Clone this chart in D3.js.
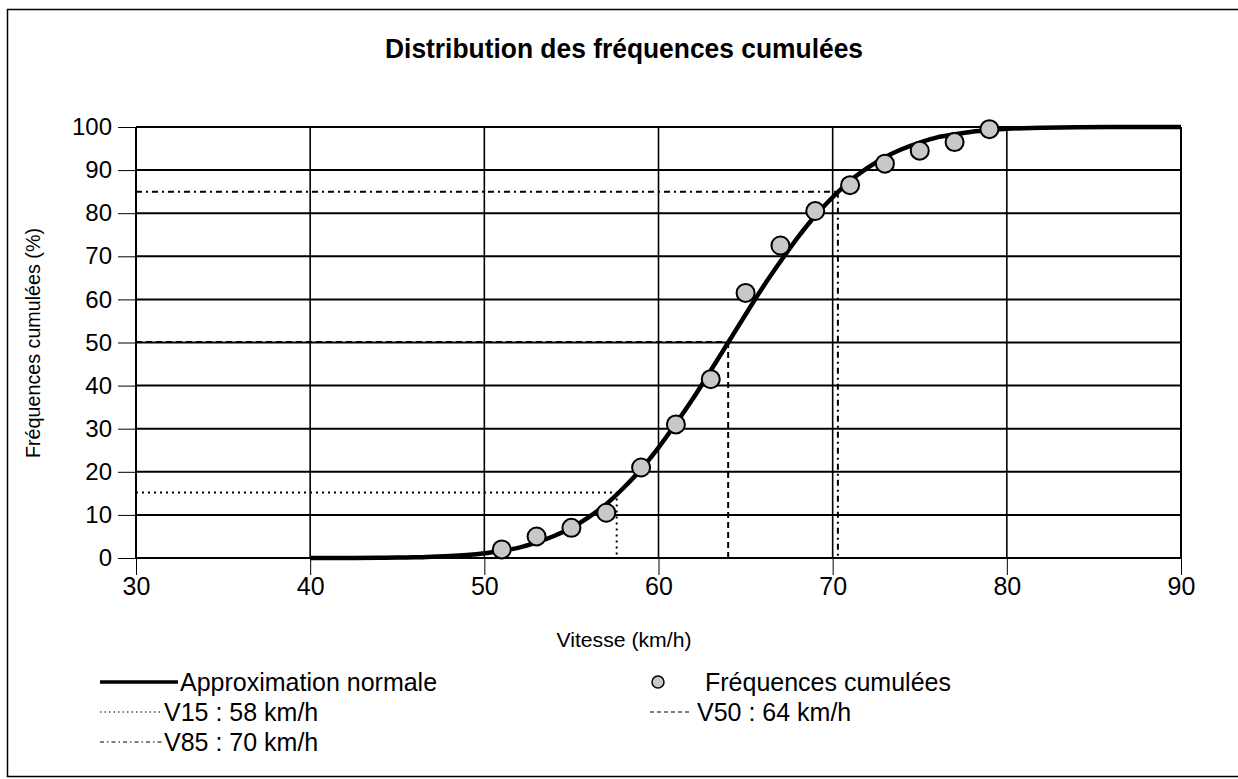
<!DOCTYPE html>
<html>
<head>
<meta charset="utf-8">
<script src="https://cdn.jsdelivr.net/npm/d3@7"></script>
<style>
  body { margin: 0; background: #fff; }
  svg { display: block; font-family: "Liberation Sans", Arial, sans-serif; }
</style>
</head>
<body>
<svg id="chart" width="1238" height="779"></svg>
<script>
// data
const speeds = [51, 53, 55, 57, 59, 61, 63, 65, 67, 69, 71, 73, 75, 77, 79];
const cumFreq = [2, 5, 7, 10.5, 21, 31, 41.5, 61.5, 72.5, 80.5, 86.5, 91.5, 94.5, 96.5, 99.5];

// normal approximation
const curveSpeed = [40, 42, 44, 45, 46, 47, 48, 49, 50, 51, 52, 53, 54, 55, 56, 57, 58, 59, 60,
                    61, 62, 63, 64, 65, 66, 67, 68, 69, 70, 71, 72, 73, 74, 75, 76, 77, 78, 79,
                    80, 82, 84, 86, 90];
const curvePct = [0, 0.02, 0.05, 0.1, 0.15, 0.3, 0.45, 0.7, 1.1, 1.7, 2.4, 3.6, 5.1, 7, 9.5, 12.5,
                  16.3, 20.6, 25.6, 31.2, 37.1, 43.5, 50, 56.5, 62.9, 68.8, 74.4, 79.4, 83.7,
                  87.5, 90.5, 93, 94.9, 96.4, 97.6, 98.3, 98.9, 99.3, 99.6, 99.8, 99.95, 100, 100];

// percentile drop lines
const pctLabels = ["V15 : 58 km/h", "V50 : 64 km/h", "V85 : 70 km/h"];
const pctLevels = [15.2, 50.1, 85];
const pctSpeeds = [57.6, 64, 70.3];

const xTicks = [30, 40, 50, 60, 70, 80, 90];
const yTicks = [0, 10, 20, 30, 40, 50, 60, 70, 80, 90, 100];

const svg = d3.select("#chart");

const x = d3.scaleLinear().domain([30, 90]).range([136, 1181]);
const y = d3.scaleLinear().domain([0, 100]).range([558, 127]);

// outer frame
svg.append("rect")
    .attr("x", 7.5).attr("y", 9.5)
    .attr("width", 1240).attr("height", 767)
    .attr("fill", "none").attr("stroke", "#000").attr("stroke-width", 1.5);

// title
svg.append("text")
    .attr("x", 624).attr("y", 58)
    .attr("text-anchor", "middle")
    .attr("font-size", 28).attr("font-weight", "bold")
    .attr("font-family", "'Liberation Sans Narrow', 'Liberation Sans', Arial, sans-serif")
    .attr("textLength", 478).attr("lengthAdjust", "spacingAndGlyphs")
    .text("Distribution des fréquences cumulées");

// gridlines
svg.append("g").selectAll("line")
    .data(yTicks)
    .join("line")
    .attr("x1", x(30)).attr("x2", x(90))
    .attr("y1", d => y(d)).attr("y2", d => y(d))
    .attr("stroke", "#000").attr("stroke-width", 2);

svg.append("g").selectAll("line")
    .data(xTicks)
    .join("line")
    .attr("x1", d => x(d)).attr("x2", d => x(d))
    .attr("y1", y(0)).attr("y2", y(100))
    .attr("stroke", "#000").attr("stroke-width", d => (d === 30 || d === 90) ? 2 : 1.6);

// axes
const xAxis = svg.append("g")
    .attr("transform", `translate(0,${y(0)})`)
    .call(d3.axisBottom(x).tickValues(xTicks).tickSize(17).tickPadding(2));
xAxis.select(".domain").remove();
xAxis.selectAll("line").attr("stroke", "#000").attr("stroke-width", 1);
xAxis.selectAll("text").attr("font-size", 25).attr("fill", "#000")
    .attr("font-family", "'Liberation Sans', Arial, sans-serif");

const yAxis = svg.append("g")
    .attr("transform", `translate(${x(30)},0)`)
    .call(d3.axisLeft(y).tickValues(yTicks).tickSize(18).tickPadding(6));
yAxis.select(".domain").remove();
yAxis.selectAll("line").attr("stroke", "#000").attr("stroke-width", 1);
yAxis.selectAll("text").attr("font-size", 24).attr("fill", "#000")
    .attr("font-family", "'Liberation Sans', Arial, sans-serif");

// axis titles
svg.append("text")
    .attr("x", 624).attr("y", 647)
    .attr("text-anchor", "middle")
    .attr("font-size", 21)
    .attr("font-family", "'Liberation Sans Narrow', 'Liberation Sans', Arial, sans-serif")
    .attr("textLength", 135).attr("lengthAdjust", "spacingAndGlyphs")
    .text("Vitesse (km/h)");

svg.append("text")
    .attr("transform", "translate(40,343) rotate(-90)")
    .attr("text-anchor", "middle")
    .attr("font-size", 21)
    .attr("font-family", "'Liberation Sans Narrow', 'Liberation Sans', Arial, sans-serif")
    .attr("textLength", 230).attr("lengthAdjust", "spacingAndGlyphs")
    .text("Fréquences cumulées (%)");

// percentile drop lines
const dashes = ["2,4", "6,4", "6,4,2,4"];
pctLevels.forEach((lvl, i) => {
    const g = svg.append("g")
        .attr("fill", "none").attr("stroke", "#000")
        .attr("stroke-width", 2).attr("stroke-dasharray", dashes[i]);
    g.append("line")
        .attr("x1", x(30)).attr("x2", x(pctSpeeds[i]))
        .attr("y1", y(lvl)).attr("y2", y(lvl));
    g.append("line")
        .attr("x1", x(pctSpeeds[i])).attr("x2", x(pctSpeeds[i]))
        .attr("y1", y(lvl)).attr("y2", y(0));
});

// normal curve
const curveData = curveSpeed.map((s, i) => ({ s: s, p: curvePct[i] }));
svg.append("path")
    .datum(curveData)
    .attr("fill", "none")
    .attr("stroke", "#000")
    .attr("stroke-width", 4.5)
    .attr("d", d3.line().x(d => x(d.s)).y(d => y(d.p)).curve(d3.curveMonotoneX));

// observed points
svg.append("g").selectAll("circle")
    .data(speeds.map((s, i) => ({ s: s, p: cumFreq[i] })))
    .join("circle")
    .attr("cx", d => x(d.s))
    .attr("cy", d => y(d.p))
    .attr("r", 9)
    .attr("fill", "#c8c8c8")
    .attr("stroke", "#000")
    .attr("stroke-width", 2);

// legend
const legendFont = 25;
const leg = svg.append("g").attr("font-size", legendFont);

leg.append("line")
    .attr("x1", 100).attr("x2", 178).attr("y1", 682).attr("y2", 682)
    .attr("stroke", "#000").attr("stroke-width", 3.5);
leg.append("text").attr("x", 180).attr("y", 691).text("Approximation normale");

leg.append("circle")
    .attr("cx", 658).attr("cy", 682).attr("r", 6)
    .attr("fill", "#c8c8c8").attr("stroke", "#000").attr("stroke-width", 1.5);
leg.append("text").attr("x", 705).attr("y", 691).text("Fréquences cumulées");

const legRows = [
    { x1: 100, x2: 162, y: 712, tx: 164 },
    { x1: 650, x2: 692, y: 712, tx: 697 },
    { x1: 100, x2: 162, y: 742, tx: 164 }
];
const legDashes = ["1.5,3", "4,3", "4,3,1.5,3"];
legRows.forEach((r, i) => {
    leg.append("line")
        .attr("x1", r.x1).attr("x2", r.x2).attr("y1", r.y).attr("y2", r.y)
        .attr("stroke", "#000").attr("stroke-width", 1.2)
        .attr("stroke-dasharray", legDashes[i]);
    leg.append("text").attr("x", r.tx).attr("y", r.y + 9).text(pctLabels[i]);
});
</script>
</body>
</html>
